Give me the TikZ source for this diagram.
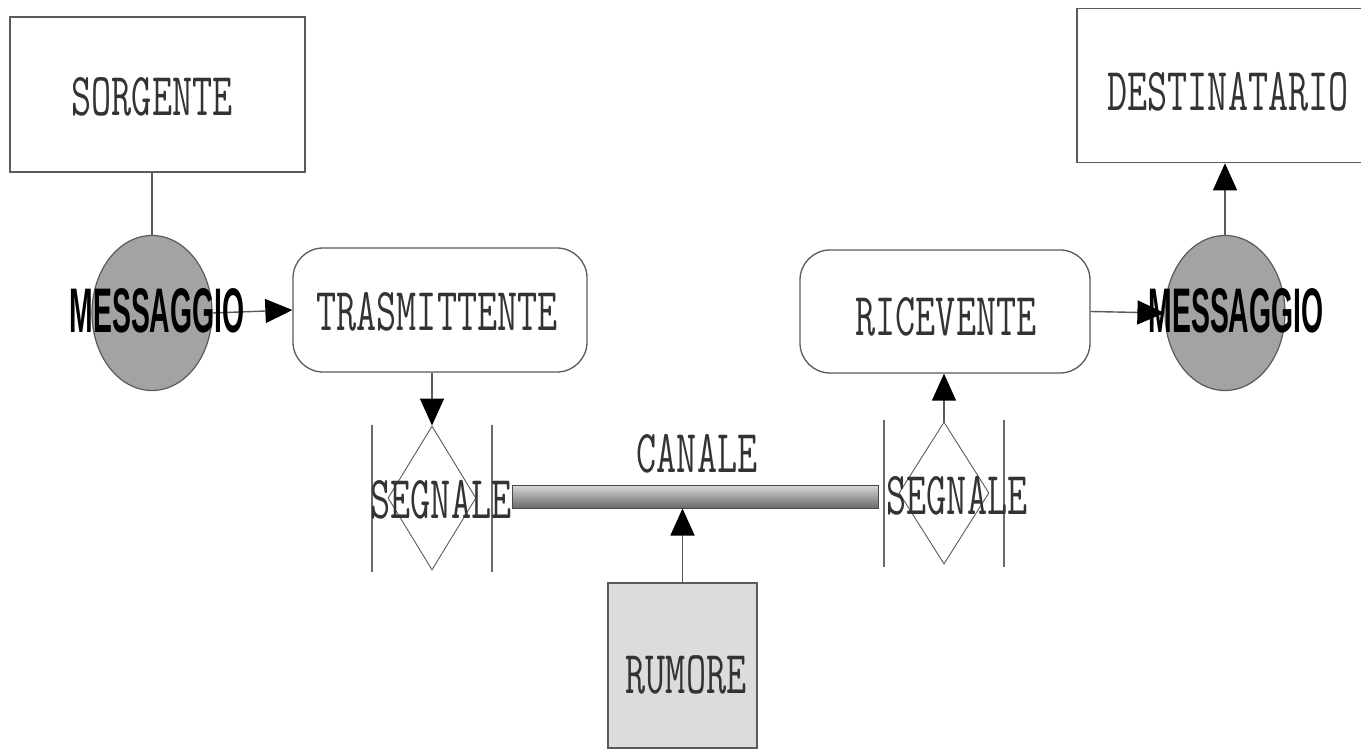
\documentclass[tikz,border=0pt]{standalone}
\usepackage{fontspec}
\usepackage{graphicx}
\usetikzlibrary{arrows.meta,shapes.geometric}
\newfontfamily\arialfont{Liberation Sans}
\newcommand{\cour}[1]{\scalebox{0.64}[1]{\ttfamily\fontsize{61}{66}\selectfont #1}}
\newcommand{\msgtext}[1]{\scalebox{0.45}[1]{\arialfont\bfseries\fontsize{63}{66}\selectfont #1}}
\definecolor{edgegray}{HTML}{5A5A5A}
\definecolor{ellgray}{HTML}{A3A3A3}
\definecolor{noisegray}{HTML}{DCDCDC}
\tikzset{
  plainbox/.style={draw=edgegray, line width=1.6pt, rectangle, inner sep=0pt},
  roundbox/.style={draw=edgegray, line width=1.3pt, rectangle, rounded corners=30pt, inner sep=0pt},
  msgell/.style={draw=edgegray, line width=1.2pt, fill=ellgray, ellipse, inner sep=0pt,
                 minimum width=120pt, minimum height=155pt},
  sigdiam/.style={draw=edgegray, line width=0.9pt, diamond, inner sep=0pt,
                  minimum width=88pt, minimum height=144pt},
  sigbar/.style={draw=edgegray!90, line width=2.6pt},
  conn/.style={draw=edgegray, line width=1.4pt},
  arr/.style={conn, -{Triangle[length=27pt, width=24pt, black]}},
  lbl/.style={inner sep=0pt, text=black!80}
}
\begin{document}
\begin{tikzpicture}[x=1pt, y=-1pt]
\clip (0,0) rectangle (1361,751);
\fill[white] (0,0) rectangle (1361,751);

% boxes
\node[plainbox, minimum width=295pt, minimum height=155pt] (sorg) at (157.5,94.5) {};
\node[lbl] (sorgt) at (152,97) {\cour{SORGENTE}};

\node[plainbox, minimum width=300pt, minimum height=154pt] (dest) at (1227,85.5) {};
\node[lbl] (destt) at (1228,92) {\cour{DESTINATARIO}};

\node[roundbox, minimum width=294pt, minimum height=124pt] (trasm) at (440,310) {};
\node[lbl] (trasmt) at (437,312) {\cour{TRASMITTENTE}};

\node[roundbox, minimum width=290pt, minimum height=123pt] (ricev) at (945,311.5) {};
\node[lbl] (ricevt) at (946,317) {\cour{RICEVENTE}};

% ellipses
\node[msgell] (msgL) at (152,313) {};
\node[msgell] (msgR) at (1225,313) {};

% connectors around messages
\draw[conn] (sorg.south -| msgL.north) -- (msgL.north);
\draw[arr] (msgL.east) -- (trasm.west);
\draw[arr] (ricev.east) -- (msgR.west);
\draw[arr] (msgR.north) -- (dest.south -| msgR.north);

\node[lbl, text=black] (msgLt) at (157,311) {\msgtext{MESSAGGIO}};
\node[lbl, text=black] (msgRt) at (1236,311) {\msgtext{MESSAGGIO}};

% signal diamonds
\node[sigdiam] (sigL) at (432,498) {};
\node[sigdiam, minimum width=90pt, minimum height=142pt] (sigR) at (944,493) {};

\coordinate (bLa) at (372,425); \coordinate (bLb) at (372,572);
\coordinate (bLc) at (492,425); \coordinate (bLd) at (492,572);
\coordinate (bRa) at (884,420); \coordinate (bRb) at (884,567);
\coordinate (bRc) at (1004,420); \coordinate (bRd) at (1004,567);
\draw[sigbar] (bLa) -- (bLb);
\draw[sigbar] (bLc) -- (bLd);
\draw[sigbar] (bRa) -- (bRb);
\draw[sigbar] (bRc) -- (bRd);

\draw[arr] (trasm.south -| sigL.north) -- (sigL.north);
\draw[arr] (sigR.north) -- (ricev.south -| sigR.north);

% channel
\node[draw=edgegray!80!black, line width=1pt, rectangle, inner sep=0pt,
      minimum width=366pt, minimum height=23pt,
      top color=gray!30, bottom color=gray!70!black!90] (canale) at (695,496.5) {};
\node[lbl] (canalet) at (697,454) {\cour{CANALE}};

\node[lbl] (sigLt) at (441,500) {\cour{SEGNALE}};
\node[lbl] (sigRt) at (957,496) {\cour{SEGNALE}};

% noise
\node[plainbox, fill=noisegray, minimum width=149pt, minimum height=165pt] (rumore) at (682.5,665.5) {};
\node[lbl] (rumoret) at (686,675) {\cour{RUMORE}};
\draw[arr] (rumore.north) -- (canale.south -| rumore.north);
\end{tikzpicture}
\end{document}
